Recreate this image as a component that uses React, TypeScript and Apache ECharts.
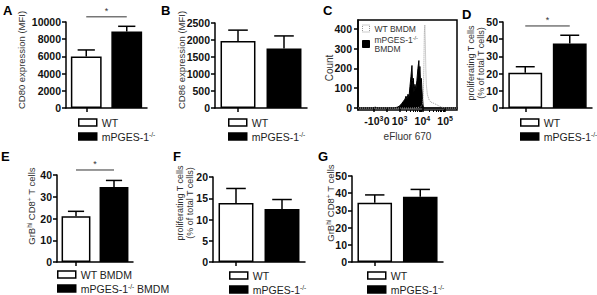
import React, { useEffect, useRef } from 'react';
import * as echarts from 'echarts';

// ---------- data ----------
const groups = ['WT', 'mPGES-1-/-'];
const groupsBMDM = ['WT BMDM', 'mPGES-1-/- BMDM'];

const cd80Mean = [6000, 8900];
const cd80Err = [750, 600];
const cd86Mean = [1970, 1750];
const cd86Err = [320, 370];
const prolifMean = [20.5, 37.5];
const prolifErr = [3.5, 4.8];
const grbMean = [21, 34.5];
const grbErr = [2.3, 3.0];
const prolif2Mean = [13.9, 12.5];
const prolif2Err = [3.4, 2.2];
const grb2Mean = [34.5, 38];
const grb2Err = [4.5, 4.2];

// flow histogram (x: display channel 0-1000, y: count)
const wtHist = [
  [0, 0], [560, 0], [600, 2], [630, 5], [650, 15], [660, 60], [665, 200], [670, 380], [675, 420],
  [680, 330], [685, 200], [690, 120], [700, 70], [715, 45], [735, 30], [760, 25], [790, 18],
  [820, 10], [850, 4], [880, 0], [1000, 0],
];
const koHist = [
  [0, 0], [150, 0], [165, 3], [175, 4], [190, 2], [200, 0], [360, 0], [380, 2], [400, 5], [420, 10],
  [440, 22], [460, 35], [475, 45], [485, 60], [495, 45], [505, 70], [515, 55], [525, 110], [535, 160],
  [545, 215], [550, 140], [555, 100], [560, 150], [565, 80], [575, 120], [585, 95], [595, 140],
  [605, 200], [615, 240], [620, 160], [625, 210], [632, 130], [640, 150], [645, 100], [650, 60],
  [658, 10], [665, 0], [1000, 0],
];
const flowTickChannels = [160, 290, 420, 650, 880];
const flowTickBase = ['-10', '0', '10', '10', '10'];
const flowTickExp = ['3', '', '3', '4', '5'];
const flowCountTicks = [0, 100, 200, 300, 400];

const FONT = 'Liberation Sans, Arial, Helvetica, sans-serif';

type BarPanel = {
  letter: string;
  mean: number[];
  err: number[];
  names: string[];
  max: number;
  interval: number;
  yName: string;
  sig: number | null;
  grid: { left: number; top: number; width: number; height: number };
  yTitle: { x: number; y: number; size: number };
  legend: { left: number; top: number };
  title: { left: number; top: number };
};

const barPanels: BarPanel[] = [
  { letter: 'A', mean: cd80Mean, err: cd80Err, names: groups, max: 10000, interval: 2000,
    yName: 'CD80 expression (MFI)', sig: 10600,
    grid: { left: 66, top: 22, width: 81, height: 86 }, yTitle: { x: 21, y: 60, size: 9.5 },
    legend: { left: 78, top: 117 }, title: { left: 3, top: 4 } },
  { letter: 'B', mean: cd86Mean, err: cd86Err, names: groups, max: 2500, interval: 500,
    yName: 'CD86 expression (MFI)', sig: null,
    grid: { left: 215, top: 23, width: 92, height: 85 }, yTitle: { x: 181, y: 60, size: 9.5 },
    legend: { left: 228, top: 117 }, title: { left: 161, top: 4 } },
  { letter: 'D', mean: prolifMean, err: prolifErr, names: groups, max: 50, interval: 10,
    yName: 'proliferating T cells\n(% of total T cells)', sig: 47.7,
    grid: { left: 503, top: 22, width: 89, height: 86 }, yTitle: { x: 476, y: 63, size: 9 },
    legend: { left: 520, top: 117 }, title: { left: 462, top: 8 } },
  { letter: 'E', mean: grbMean, err: grbErr, names: groupsBMDM, max: 40, interval: 10,
    yName: 'GrB{s|hi} CD8{s|+} T cells', sig: 42.3,
    grid: { left: 57, top: 175, width: 76, height: 87 }, yTitle: { x: 31, y: 206, size: 9.5 },
    legend: { left: 57, top: 269 }, title: { left: 1, top: 150 } },
  { letter: 'F', mean: prolif2Mean, err: prolif2Err, names: groups, max: 20, interval: 5,
    yName: 'proliferating T cells\n(% of total T cells)', sig: null,
    grid: { left: 213, top: 177, width: 92, height: 85 }, yTitle: { x: 185, y: 203, size: 9 },
    legend: { left: 229, top: 270 }, title: { left: 173, top: 150 } },
  { letter: 'G', mean: grb2Mean, err: grb2Err, names: groups, max: 50, interval: 10,
    yName: 'GrB{s|hi} CD8{s|+} T cells', sig: null,
    grid: { left: 352, top: 176, width: 91, height: 86 }, yTitle: { x: 330, y: 203, size: 9.5 },
    legend: { left: 367, top: 270 }, title: { left: 318, top: 150 } },
];

const cPanel = {
  grid: { left: 358, top: 20, width: 99, height: 90 },
  yTitle: { x: 329, y: 68 },
  legend: { left: 362, top: 24 },
  title: { left: 323, top: 4 },
};

const titleRich = {
  s: { fontSize: 6.5, lineHeight: 7, verticalAlign: 'top' as const, fontFamily: FONT, fill: '#333' },
};
const supRich = {
  s: { fontSize: 6.5, lineHeight: 7, verticalAlign: 'top' as const, fontFamily: FONT, color: '#222' },
};

function legendFormat(name: string) {
  return name.replace('-/-', '{s|-/-}');
}

export default function App() {
  const ref = useRef<HTMLDivElement>(null);

  useEffect(() => {
    if (!ref.current) return;
    const chart = echarts.init(ref.current, undefined, { renderer: 'svg' });

    const grids: any[] = [];
    const xAxes: any[] = [];
    const yAxes: any[] = [];
    const series: any[] = [];
    const legends: any[] = [];
    const titles: any[] = [];
    const graphics: any[] = [];

    const tickLabel = { fontSize: 10.5, fontWeight: 'bold', color: '#111', fontFamily: FONT, margin: 5, formatter: (v: number) => String(v) };
    const axisLine = { show: true, lineStyle: { color: '#000', width: 1.5 } };
    const axisTick = { show: true, length: 4, lineStyle: { color: '#000', width: 1.5 } };

    const addYTitle = (text: string, x: number, y: number, fontSize = 9.5) => {
      graphics.push({
        type: 'text', x, y, rotation: Math.PI / 2, silent: true,
        style: { text, align: 'center', verticalAlign: 'middle', fontSize, lineHeight: fontSize + 0.8, fill: '#333', fontFamily: FONT, rich: titleRich },
      });
    };

    const lateSeries: any[] = [];

    barPanels.forEach((p) => {
      const gi = grids.length;
      grids.push({ ...p.grid, containLabel: false });
      xAxes.push({
        type: 'category', gridIndex: gi, data: p.names,
        axisLine, axisTick: { ...axisTick, alignWithLabel: true },
        axisLabel: { show: false }, splitLine: { show: false },
      });
      yAxes.push({
        type: 'value', gridIndex: gi, min: 0, max: p.max, interval: p.interval,
        axisLine, axisTick, axisLabel: tickLabel, splitLine: { show: false },
      });
      addYTitle(p.yName, p.yTitle.x, p.yTitle.y, p.yTitle.size);
      series.push({
        type: 'bar', name: p.names[0], xAxisIndex: gi, yAxisIndex: gi,
        data: [p.mean[0], '-'], barWidth: '76%', barGap: '-100%',
        itemStyle: { color: '#fff', borderColor: '#000', borderWidth: 1.5 },
      });
      series.push({
        type: 'bar', name: p.names[1], xAxisIndex: gi, yAxisIndex: gi,
        data: ['-', p.mean[1]], barWidth: '76%', barGap: '-100%',
        itemStyle: { color: '#000', borderColor: '#000', borderWidth: 1.5 },
      });
      series.push({
        type: 'custom', xAxisIndex: gi, yAxisIndex: gi, z: 5,
        encode: { x: 0, y: 1 },
        data: p.mean.map((m, k) => [k, m, p.err[k]]),
        renderItem: (params: any, api: any) => {
          const cat = api.value(0), m = api.value(1), e = api.value(2);
          const base = api.coord([cat, m]);
          const top = api.coord([cat, m + e]);
          const bw = api.size([1, 0])[0] * 0.76;
          const half = bw * 0.28;
          return {
            type: 'group', children: [
              { type: 'line', shape: { x1: base[0], y1: base[1], x2: top[0], y2: top[1] }, style: { stroke: '#000', lineWidth: 1.5 } },
              { type: 'line', shape: { x1: top[0] - half, y1: top[1], x2: top[0] + half, y2: top[1] }, style: { stroke: '#000', lineWidth: 1.5 } },
            ],
          };
        },
      });
      if (p.sig !== null) {
        series.push({
          type: 'custom', xAxisIndex: gi, yAxisIndex: gi, z: 5, clip: false,
          encode: { x: [0, 1], y: 2 },
          data: [[0, 1, p.sig]],
          renderItem: (params: any, api: any) => {
            const y = api.value(2);
            const a = api.coord([api.value(0), y]);
            const b = api.coord([api.value(1), y]);
            return {
              type: 'group', children: [
                { type: 'line', shape: { x1: a[0], y1: a[1], x2: b[0], y2: b[1] }, style: { stroke: '#333', lineWidth: 1 } },
                { type: 'text', x: (a[0] + b[0]) / 2, y: a[1] - 1, style: { text: '*', fontSize: 9, fill: '#333', align: 'center', verticalAlign: 'bottom', fontFamily: FONT } },
              ],
            };
          },
        });
      }
      legends.push({
        left: p.legend.left, top: p.legend.top, height: 40, orient: 'vertical', selectedMode: false,
        itemWidth: 18, itemHeight: 7, itemGap: 3, padding: 0,
        textStyle: { fontSize: 10.5, color: '#222', fontFamily: FONT, lineHeight: 11, rich: supRich },
        formatter: legendFormat,
        data: [
          { name: p.names[0], icon: 'rect', itemStyle: { color: '#fff', borderColor: '#000', borderWidth: 1.5 } },
          { name: p.names[1], icon: 'rect', itemStyle: { color: '#000', borderColor: '#000', borderWidth: 1.5 } },
        ],
      });
      titles.push({ text: p.letter, left: p.title.left, top: p.title.top, padding: 0,
        textStyle: { fontSize: 13, fontWeight: 'bold', color: '#000', fontFamily: FONT } });
    });

    // ---- panel C (flow histogram) ----
    const cg = grids.length;
    grids.push({ ...cPanel.grid, show: true, borderColor: '#000', borderWidth: 1.5, backgroundColor: 'transparent' });
    xAxes.push({
      type: 'value', gridIndex: cg, min: 0, max: 1000,
      axisLine, axisTick: { ...axisTick, customValues: flowTickChannels },
      axisLabel: {
        ...tickLabel, margin: 5, customValues: flowTickChannels,
        formatter: (v: number) => {
          const i = flowTickChannels.indexOf(v);
          if (i < 0) return '';
          return flowTickExp[i] ? `${flowTickBase[i]}{s|${flowTickExp[i]}}` : flowTickBase[i];
        },
        rich: { s: { fontSize: 7, lineHeight: 7, verticalAlign: 'top', fontWeight: 'bold', color: '#111', fontFamily: FONT } },
      },
      splitLine: { show: false },
      name: 'eFluor 670', nameLocation: 'middle', nameGap: 21,
      nameTextStyle: { fontSize: 10, color: '#333', fontFamily: FONT },
    });
    const minorTicks: number[] = [];
    [420, 650].forEach((b) => { for (let k = 2; k <= 9; k++) minorTicks.push(b + 230 * Math.log10(k)); });
    xAxes.push({
      type: 'value', gridIndex: cg, min: 0, max: 1000, position: 'bottom',
      axisLine: { show: false }, axisLabel: { show: false }, splitLine: { show: false },
      axisTick: { show: true, length: 2, customValues: minorTicks, lineStyle: { color: '#000', width: 1 } },
    });
    yAxes.push({
      type: 'value', gridIndex: cg, min: -10, max: 445,
      axisLine, axisTick: { ...axisTick, customValues: flowCountTicks },
      axisLabel: { ...tickLabel, margin: 6, customValues: flowCountTicks },
      splitLine: { show: false },
    });
    addYTitle('Count', cPanel.yTitle.x, cPanel.yTitle.y, 10);
    lateSeries.push({
      type: 'line', name: groupsBMDM[1], xAxisIndex: xAxes.length - 2, yAxisIndex: yAxes.length - 1,
      data: koHist, symbol: 'none', lineStyle: { color: '#000', width: 1 }, areaStyle: { color: '#000', opacity: 1 },
      itemStyle: { color: '#000' },
    });
    lateSeries.push({
      type: 'line', name: groupsBMDM[0], xAxisIndex: xAxes.length - 2, yAxisIndex: yAxes.length - 1,
      data: wtHist, symbol: 'none', lineStyle: { color: '#999', width: 1, type: 'dotted' }, itemStyle: { color: '#999' },
    });
    legends.push({
      left: cPanel.legend.left, top: cPanel.legend.top, height: 40, orient: 'vertical', selectedMode: false,
      itemWidth: 7, itemHeight: 7, itemGap: 2, padding: 0,
      textStyle: { fontSize: 8.5, color: '#333', fontFamily: FONT, lineHeight: 9, rich: { s: { fontSize: 5.5, lineHeight: 6, verticalAlign: 'top', color: '#333', fontFamily: FONT } } },
      formatter: (n: string) => n === groupsBMDM[1] ? 'mPGES-1{s|-/-}\nBMDM' : n,
      data: [
        { name: groupsBMDM[0], icon: 'rect', itemStyle: { color: '#fff', borderColor: '#999', borderWidth: 1, borderType: 'dotted' } },
        { name: groupsBMDM[1], icon: 'rect', itemStyle: { color: '#000', borderColor: '#000', borderWidth: 1 } },
      ],
    });
    titles.push({ text: 'C', left: cPanel.title.left, top: cPanel.title.top, padding: 0,
      textStyle: { fontSize: 13, fontWeight: 'bold', color: '#000', fontFamily: FONT } });

    chart.setOption({
      animation: false,
      backgroundColor: '#fff',
      textStyle: { fontFamily: FONT },
      title: titles,
      grid: grids,
      xAxis: xAxes,
      yAxis: yAxes,
      legend: legends,
      graphic: graphics,
      series: [...series, ...lateSeries],
    });

    return () => chart.dispose();
  }, []);

  return <div ref={ref} style={{ position: 'fixed', left: 0, top: 0, width: 597, height: 295, background: '#fff' }} />;
}
